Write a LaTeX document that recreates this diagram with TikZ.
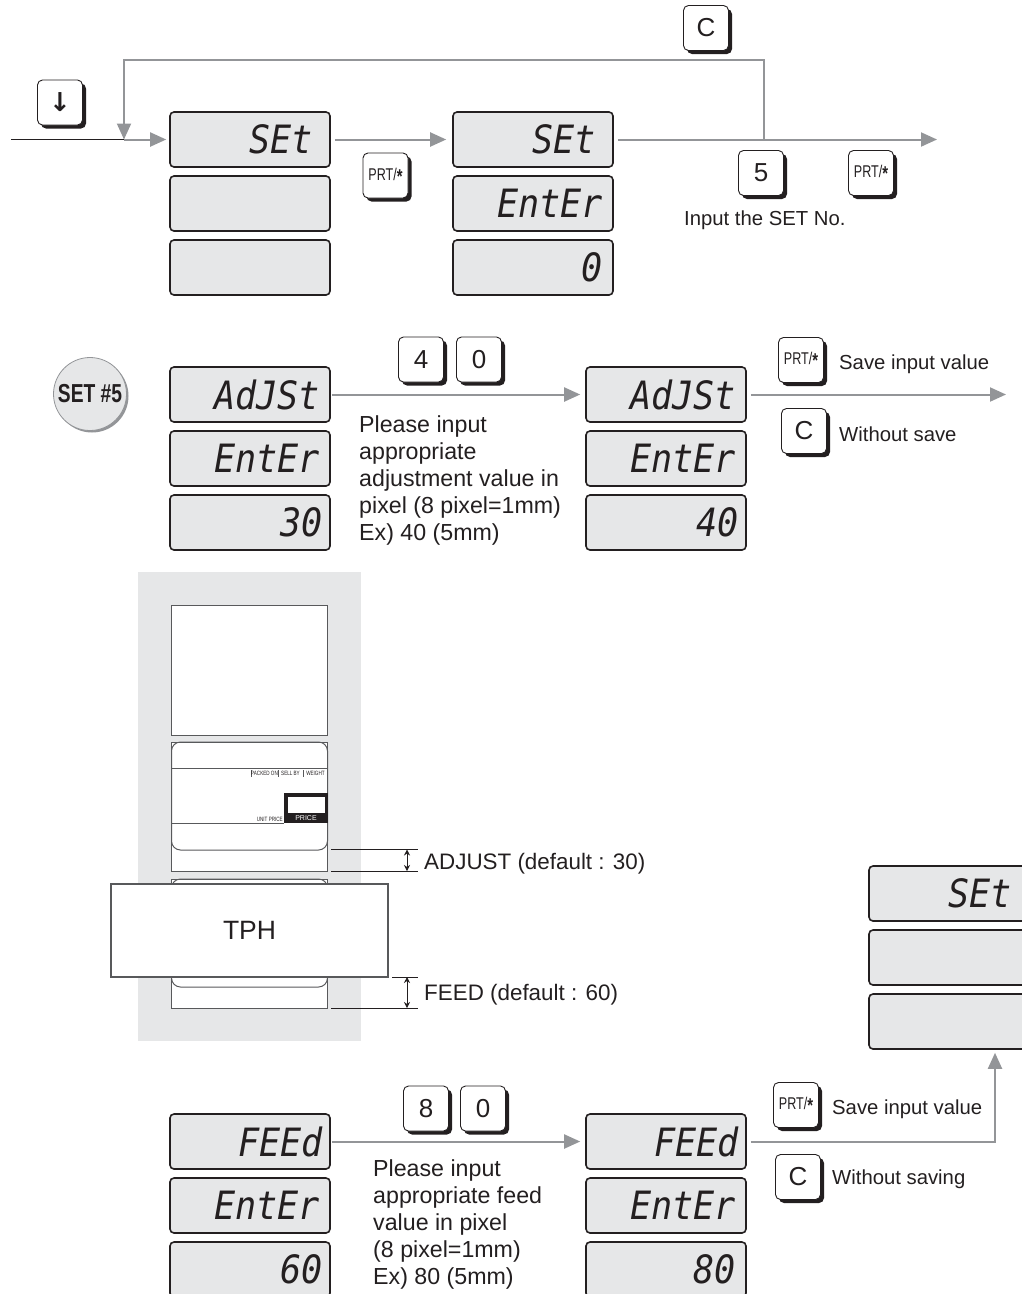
\documentclass[tikz,border=0pt]{standalone}
\usepackage{fontspec}
\setmainfont{Liberation Sans}
\newfontfamily\lcdfont[FakeStretch=0.9]{DejaVu Sans Mono}
\newfontfamily\narrowfont[FakeStretch=0.74]{Liberation Sans}
\newfontfamily\arrowfont{DejaVu Sans}
\usetikzlibrary{arrows.meta,shadows}
\definecolor{lcdgray}{RGB}{230,231,232}
\definecolor{flowgray}{RGB}{147,149,152}
\definecolor{inkblack}{RGB}{35,31,32}
\definecolor{edgegray}{RGB}{88,89,91}
\newcommand{\prtlabel}{PRT/\raisebox{-3pt}{\bfseries\fontsize{20}{20}\selectfont *}}
\tikzset{
    lcd/.style={draw=inkblack, fill=lcdgray, rounded corners=4pt, line width=1.6pt, minimum height=55pt, inner xsep=10pt, inner ysep=0pt, text width=140pt, align=flush right, text=inkblack, font=\lcdfont\itshape\fontsize{39}{39}\selectfont},
    keycap/.style={draw=inkblack, fill=white, rounded corners=5pt, line width=0.9pt, minimum size=45pt, inner sep=0pt, text=inkblack, font=\fontsize{26}{26}\selectfont, general shadow={shadow xshift=3.5pt, shadow yshift=-3.5pt, fill=inkblack}},
    prtkey/.style={keycap, font=\narrowfont\fontsize{17}{17}\selectfont},
    flow/.style={->, draw=flowgray, line width=2pt},
    caption/.style={anchor=west, inner sep=0pt, text=inkblack, font=\fontsize{20.3}{27}\selectfont},
    note/.style={caption, align=left, font=\fontsize{23.2}{27}\selectfont},
    dimnote/.style={caption, font=\fontsize{22.4}{27}\selectfont},
    labelline/.style={draw=edgegray, line width=1pt},
    tiny/.style={inner sep=0pt, text=inkblack, font=\narrowfont\fontsize{6.2}{6.2}\selectfont},
    dimline/.style={draw=inkblack, line width=0.8pt}
}
\begin{document}
\begin{tikzpicture}[x=1pt, y=-1pt, >={Triangle[length=16pt,width=14pt]}]
    \useasboundingbox (0,0) rectangle (1022,1294);
    \clip (0,0) rectangle (1022,1294);

    \node[lcd] (seta) at (250,139.5) {SEt\hspace*{7pt}};
    \node[lcd] (setb) at (250,203.5) {};
    \node[lcd] (setc) at (250,267.5) {};
    \node[lcd] (inpa) at (533,139.5) {SEt\hspace*{7pt}};
    \node[lcd] (inpb) at (533,203.5) {EntEr};
    \node[lcd] (inpc) at (533,267.5) {0};
    \node[keycap] (keydown) at (60,102.5) {\arrowfont\bfseries ↓};
    \node[keycap] (keyclear) at (706,28) {C};
    \node[prtkey] (keyprta) at (385.5,175.5) {\prtlabel};
    \node[keycap] (keyfive) at (761,173) {5};
    \node[prtkey] (keyprtb) at (871,173) {\prtlabel};
    \node[caption] (inputset) at (684,220) {Input the SET No.};

    \coordinate (entry) at (11,139.5);
    \coordinate (join) at (124,139.5);
    \coordinate (over) at (124,60);
    \coordinate (tap) at (764,139.5);
    \coordinate (outa) at (937,139.5);
    \draw[flow, shorten >=3pt] (join) -- (seta);
    \draw[flow, shorten <=4pt, shorten >=6pt] (seta) -- (inpa);
    \draw[flow, shorten <=4pt] (inpa) -- (outa);
    \draw[flow] (tap) |- (over) -- (join);
    \draw[inkblack, line width=1.8pt] (entry) -- (join);

    \node[circle, draw=flowgray, fill=lcdgray, line width=0.8pt, minimum size=73pt, inner sep=0pt, general shadow={shadow xshift=2pt, shadow yshift=-2pt, fill=flowgray}, text=inkblack] (setfive) at (90,394) {\narrowfont\bfseries\fontsize{26}{26}\selectfont SET \#5};
    \node[lcd] (adja) at (250,394.5) {AdJSt};
    \node[lcd] (adjb) at (250,458.5) {EntEr};
    \node[lcd] (adjc) at (250,522.5) {30\hspace*{-3pt}};
    \node[lcd] (adjd) at (666,394.5) {AdJSt};
    \node[lcd] (adje) at (666,458.5) {EntEr};
    \node[lcd] (adjf) at (666,522.5) {40\hspace*{-3pt}};
    \node[keycap] (keyfour) at (421,359.5) {4};
    \node[keycap] (keyzeroa) at (479,359.5) {0};
    \node[prtkey] (keyprtc) at (801,360) {\prtlabel};
    \node[keycap] (keyclearb) at (804,431) {C};
    \node[caption] (savea) at (839,364) {Save input value};
    \node[caption] (nosavea) at (839,434) {Without save};
    \node[note] (adjnote) at (359,480.5) {Please input\\appropriate\\adjustment value in\\pixel (8 pixel=1mm)\\Ex) 40 (5mm)};
    \coordinate (outb) at (1006,394.5);
    \draw[flow, shorten <=1pt, shorten >=5pt] (adja) -- (adjd);
    \draw[flow, shorten <=4pt] (adjd) -- (outb);

    \fill[lcdgray] (138,572) rectangle (361,1041);
    \draw[labelline, fill=white] (171.5,605) rectangle (327.5,735);
    \draw[labelline, fill=white] (171.5,742) rectangle (327.5,871);
    \draw[labelline, rounded corners=9pt] (171.5,742) rectangle (327.5,850);
    \draw[labelline] (171.5,768) -- (327.5,768);
    \draw[labelline] (171.5,823) -- (284,823);
    \draw[labelline] (251,770) -- (251,777);
    \draw[labelline] (278,770) -- (278,777);
    \draw[labelline] (303,770) -- (303,777);
    \node[tiny] (packed) at (264.5,773.5) {PACKED ON};
    \node[tiny] (sellby) at (290.5,773.5) {SELL BY};
    \node[tiny] (weight) at (315.5,773.5) {WEIGHT};
    \node[tiny, anchor=east] (unitprice) at (283,819) {UNIT PRICE};
    \fill[inkblack] (284,793) rectangle (328,823);
    \fill[white] (288,797) rectangle (325,813);
    \node[tiny, text=white, font=\fontsize{7}{7}\selectfont] (pricetag) at (306,818) {PRICE};
    \draw[labelline, fill=white] (171.5,879) rectangle (327.5,1008);
    \draw[labelline, rounded corners=9pt] (171.5,879) rectangle (327.5,987);
    \node[draw=edgegray, fill=white, line width=1.5pt, minimum width=277pt, minimum height=93pt, inner sep=0pt, text=inkblack, font=\fontsize{26.5}{26.5}\selectfont] (tph) at (249.5,930.5) {TPH};

    \coordinate (adjtopa) at (331,849.5);
    \coordinate (adjtopb) at (418,849.5);
    \coordinate (adjbota) at (331,871);
    \coordinate (adjbotb) at (418,871);
    \coordinate (adjup) at (407,849.5);
    \coordinate (adjdn) at (407,871);
    \coordinate (feedtopa) at (392,977);
    \coordinate (feedtopb) at (418,977);
    \coordinate (feedbota) at (331,1008);
    \coordinate (feedbotb) at (418,1008);
    \coordinate (feedup) at (407,977);
    \coordinate (feeddn) at (407,1008);
    \draw[dimline] (adjtopa) -- (adjtopb);
    \draw[dimline] (adjbota) -- (adjbotb);
    \draw[dimline] (feedtopa) -- (feedtopb);
    \draw[dimline] (feedbota) -- (feedbotb);
    \draw[dimline, {Stealth[length=6pt,width=6pt]}-{Stealth[length=6pt,width=6pt]}] (adjup) -- (adjdn);
    \draw[dimline, {Stealth[length=6pt,width=6pt]}-{Stealth[length=6pt,width=6pt]}] (feedup) -- (feeddn);
    \node[dimnote] (adjust) at (424,864) {ADJUST (default : 30)};
    \node[dimnote] (feed) at (424,995) {FEED (default : 60)};

    \node[lcd] (enda) at (949,893.5) {SEt\hspace*{7pt}};
    \node[lcd] (endb) at (949,957.5) {};
    \node[lcd] (endc) at (949,1021.5) {};

    \node[lcd] (feeda) at (250,1141.5) {FEEd\hspace*{-3pt}};
    \node[lcd] (feedb) at (250,1205.5) {EntEr};
    \node[lcd] (feedc) at (250,1269.5) {60\hspace*{-3pt}};
    \node[lcd] (feedd) at (666,1141.5) {FEEd\hspace*{-3pt}};
    \node[lcd] (feede) at (666,1205.5) {EntEr};
    \node[lcd] (feedf) at (666,1269.5) {80};
    \node[keycap] (keyeight) at (426,1108.5) {8};
    \node[keycap] (keyzerob) at (483,1108.5) {0};
    \node[prtkey] (keyprtd) at (796,1105) {\prtlabel};
    \node[keycap] (keyclearc) at (798,1177) {C};
    \node[caption] (saveb) at (832,1109) {Save input value};
    \node[caption] (nosaveb) at (832,1179) {Without saving};
    \node[note] (feednote) at (373,1224.5) {Please input\\appropriate feed\\value in pixel\\(8 pixel=1mm)\\Ex) 80 (5mm)};
    \coordinate (turn) at (995,1141.5);
    \draw[flow, shorten <=1pt, shorten >=5pt] (feeda) -- (feedd);
    \draw[flow, shorten <=4pt, shorten >=3pt] (feedd) -- (turn) -- (turn |- endc.south);
\end{tikzpicture}
\end{document}
